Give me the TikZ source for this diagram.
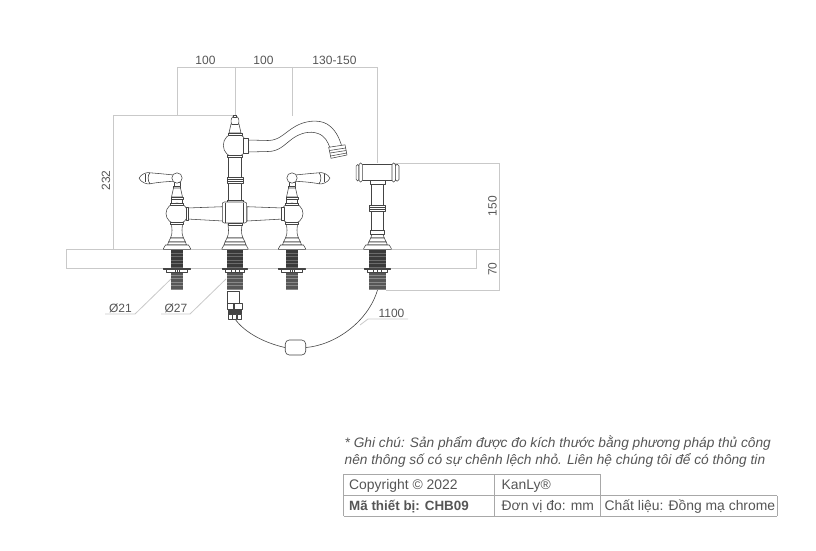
\documentclass[tikz,border=0pt]{standalone}
\usepackage{fontspec}
\setmainfont{Liberation Sans}
\definecolor{dimc}{HTML}{C9C9C9}
\definecolor{prod}{HTML}{444444}
\definecolor{thr}{HTML}{3A3A3A}
\definecolor{txt}{HTML}{555555}
\definecolor{tbl}{HTML}{A8A8A8}
\tikzset{
 dimline/.style={draw=dimc,line width=0.8pt},
 prodline/.style={draw=prod,line width=0.55pt,fill=white,line join=round},
 prodopen/.style={draw=prod,line width=0.55pt,line join=round},
 dimtext/.style={text=txt,font=\fontsize{12}{14}\selectfont,inner sep=0pt},
 notetext/.style={text=txt,font=\fontsize{13.7}{16}\selectfont\itshape,inner sep=0pt,anchor=base west},
 celltext/.style={text=txt,font=\fontsize{13.9}{15}\selectfont,inner sep=0pt,anchor=base west},
 tblline/.style={draw=tbl,line width=0.8pt},
 hoseline/.style={draw=prod,line width=0.6pt},
}
% thread: axis, half width, flange half width
\newcommand{\threadpart}[3]{%
 \begin{scope}[shift={(#1,0)}]
  \fill[thr] (-#2,250) rectangle (#2,268);
  \fill[thr!85!white] (-#2,272) rectangle (#2,290);
  \foreach \yy in {253,256.5,260,263.5,267}{\draw[white!25!thr,line width=0.4pt] (-#2,\yy) -- (#2,\yy);}
  \foreach \yy in {275,278.5,282,285.5,289}{\draw[white!40!thr,line width=0.4pt] (-#2,\yy) -- (#2,\yy);}
  \draw[prodline] (-#3,268) -- (#3,268) -- (#3,269.5) -- (-#3,269.5) -- cycle;
  \draw[prodline] (-#3+3,269.5) rectangle (#3-3,272.5);
  \draw[prodopen] (-#2+4,269.5) -- (-#2+4,272.5) (0,269.5) -- (0,272.5) (#2-4,269.5) -- (#2-4,272.5);
 \end{scope}}
% base: axis, neck half width, plate half width
\newcommand{\basepart}[3]{%
 \begin{scope}[shift={(#1,0)}]
  \draw[prodline] (-#2,224) -- (-#2+0.5,230) .. controls (-#2+0.5,234) and (-#2,236) .. (-#2-1,238) -- (#2+1,238) .. controls (#2,236) and (#2-0.5,234) .. (#2-0.5,230) -- (#2,224) -- cycle;
  \draw[prodline] (-#2-1,238) -- (-#2-3,242) -- (#2+3,242) -- (#2+1,238) -- cycle;
  \draw[prodline] (-#2-3,242) -- (-#2-4,245) -- (#2+4,245) -- (#2+3,242) -- cycle;
  \draw[prodline] (-#3+2,245) -- (#3-2,245) -- (#3,248.5) -- (#3,249.3) -- (-#3,249.3) -- (-#3,248.5) -- cycle;
 \end{scope}}
% lever valve: axis, direction of lever
\newcommand{\levervalve}[2]{%
 \begin{scope}[shift={(#1,0)}]
  % lever
  \begin{scope}[xscale=#2]
   \draw[prodline] (2,175.5) .. controls (-8,174.5) and (-18,173.5) .. (-27,172.8) .. controls (-30,174.5) and (-30,181.5) .. (-27,183.8) .. controls (-18,182) and (-8,181.5) .. (2,181) -- cycle;
   \draw[prodline] (-27,172.8) .. controls (-30,171.8) and (-36,174) .. (-38,178.2) .. controls (-36,182.5) and (-30,184.5) .. (-27,183.8) .. controls (-29.5,181.5) and (-29.5,174.5) .. (-27,172.8) -- cycle;
   \draw[prodopen] (-32,174.3) -- (-32,182.2);
  \end{scope}
  % upper stem
  \draw[prodline] (-3,182) -- (-3,186) -- (3,186) -- (3,182) -- cycle;
  \draw[prodline] (-3.5,186) rectangle (3.5,188);
  \draw[prodline] (-3.5,188) -- (-5.5,197) -- (5.5,197) -- (3.5,188) -- cycle;
  \draw[prodline] (-6,197) rectangle (6,199.5);
  \draw[prodline] (-5.5,199.5) rectangle (5.5,204);
  \draw[prodline] (0,178) circle (5.2);
  \draw[prodline] (0,213.5) ellipse (11 and 10.5);
  \draw[prodline] (-6.5,203) rectangle (6.5,205);
  \draw[prodline] (-6.5,222) rectangle (6.5,224.5);
 \end{scope}}
\begin{document}
\begin{tikzpicture}[x=1pt,y=-1pt]
\useasboundingbox (0,0) rectangle (816,551);
% counter
\draw[dimline] (66,249.5) rectangle (476.5,268);
% dimension lines
\draw[dimline] (177,115.7) -- (177,67) -- (377,67) -- (377,163);
\draw[dimline] (235,67) -- (235,116);
\draw[dimline] (292,67) -- (292,115.5);
\draw[dimline] (235,115.7) -- (113,115.7) -- (113,249.5);
\draw[dimline] (393,163) -- (499.7,163) -- (499.7,290) -- (386,290);
\draw[dimline] (476.5,249.5) -- (499.7,249.5);
\draw[dimline] (105,314) -- (135,314) -- (171,279);
\draw[dimline] (161,314) -- (190,314) -- (226,279);
\draw[dimline] (360,325) -- (368,319) -- (408,319);
\node[dimtext] (d100a) at (205.5,60.5) {100};
\node[dimtext] (d100b) at (263.5,60.5) {100};
\node[dimtext] (d130) at (334.5,60.5) {130-150};
\node[dimtext,rotate=90] (d232) at (106,180.5) {232};
\node[dimtext,rotate=90] (d150) at (492.5,206) {150};
\node[dimtext,rotate=90] (d70) at (492.5,269) {70};
\node[dimtext] (d21) at (120.5,308.5) {Ø21};
\node[dimtext] (d27) at (176,308.5) {Ø27};
\node[dimtext] (d1100) at (391.5,313) {1100};
% threads
\threadpart{177}{6.2}{13.5}
\threadpart{292}{6.2}{13.5}
\threadpart{235}{8}{12.5}
\threadpart{377.5}{8.2}{13}
% bases
\basepart{177}{5.5}{13.5}
\basepart{292}{5.5}{13.5}
\basepart{235}{7}{13}
\basepart{377.5}{5.8}{13.8}
% left and right valves
\levervalve{177}{1}
\levervalve{292}{-1}
% bridge arms
\draw[prodline] (187,208) -- (223,206.7) -- (223,221) -- (187,219) -- cycle;
\draw[prodline] (283,208) -- (247,206.7) -- (247,221) -- (283,219) -- cycle;
\draw[prodline] (186,207) rectangle (188.5,220);
\draw[prodline] (281.5,207) rectangle (284,220);
% spout
\draw[prodline] (248,140) -- (268,140.5) .. controls (280,140.5) and (285,132) .. (296,126) .. controls (305,121) and (318,119) .. (327,124) .. controls (335,129) and (339,137) .. (341.7,146) -- (330,148) .. controls (328,142) and (325,136) .. (318,133.5) .. controls (310,130.5) and (300,133) .. (292,139) .. controls (284,145) and (279,151.5) .. (268,151.5) -- (248,152) -- cycle;
% aerator
\draw[prodline] (328.7,147.3) -- (345,144.8) -- (347,155) -- (331,158.3) -- cycle;
\draw[prodopen] (329.5,150.5) -- (345.6,148) (330,153) -- (346.2,150.5) (330.6,156) -- (346.7,153);
% centre column
\draw[prodline] (228,155) rectangle (241.5,178);
\draw[prodline] (226.8,177.5) rectangle (243,183);
\draw[prodopen] (226.8,179.5) -- (243,179.5) (226.8,181) -- (243,181);
\draw[prodline] (228,183) rectangle (241.5,202);
\draw[prodline] (226.8,200) rectangle (243,203);
% cube
\draw[prodline,rounded corners=2pt] (222.3,202) rectangle (246.7,223);
\draw[prodopen] (225.5,202.5) -- (225.5,222.5) (243.5,202.5) -- (243.5,222.5);
\draw[prodline] (228,223) rectangle (242,225);
% ball and finial
\draw[prodline] (231,124) -- (229,133) -- (241,133) -- (239,124) -- cycle;
\draw[prodline] (232.5,117) .. controls (230.5,119) and (230.8,123) .. (232,124.5) -- (238,124.5) .. controls (239.2,123) and (239.5,119) .. (237.5,117) -- cycle;
\draw[prodline] (233.5,115.5) rectangle (236.5,117);
\draw[prodline] (235,145.3) ellipse (11.7 and 12);
\draw[prodline] (228,133) rectangle (242,135);
\draw[prodline] (227.5,155) rectangle (242.5,157.5);
\draw[prodline] (243,138) rectangle (248,153);
% lower connection of centre
\draw[prodline] (227.7,291.5) rectangle (239.5,303);
\draw[prodline] (227,303) rectangle (233,309);
\draw[prodline] (234,303) rectangle (242,309);
\fill[prod] (228,309) rectangle (241.5,314);
\draw[prodline] (228,314) rectangle (231.8,319);
\draw[prodline] (232.5,314) rectangle (236.2,319);
\draw[prodline] (237,314) rectangle (241,319);
% spray
\draw[prodline] (370,184) rectangle (385,179);
\draw[prodline] (371.7,184) rectangle (383.5,230);
\draw[prodline] (369.3,205.5) rectangle (385.7,211);
\draw[prodopen] (369.3,207.5) -- (385.7,207.5) (369.3,209.2) -- (385.7,209.2);
\draw[prodline] (370.3,230) rectangle (384.7,234);
\draw[prodline] (360,164) rectangle (395,180);
\draw[prodline,rounded corners=1.5pt] (356.2,164.5) rectangle (359,181);
\draw[prodline,rounded corners=1.5pt] (359,163) rectangle (362.3,182);
\draw[prodline,rounded corners=1.5pt] (392,163) rectangle (395.3,182);
\draw[prodline,rounded corners=1.5pt] (395.3,164.5) rectangle (399,181);
% hose
\node[draw=prod,line width=0.6pt,rounded corners=4pt,minimum width=20.5pt,minimum height=15pt,inner sep=0pt,fill=white] (pill) at (295.5,347.5) {};
\coordinate (hoseA) at (235,319);
\coordinate (hoseB) at (377.5,290);
\draw[hoseline] (hoseA) .. controls (245,333) and (265,343) .. (pill.west);
\draw[hoseline] (pill.east) .. controls (335,345) and (368,322) .. (hoseB);
% note
\node[notetext] (note1) at (344.5,447) {* Ghi chú: Sản phẩm được đo kích thước bằng phương pháp thủ công};
\node[notetext] (note2) at (344.5,464.5) {nên thông số có sự chênh lệch nhỏ. Liên hệ chúng tôi để có thông tin};
% table
\draw[tblline] (343.5,474.3) -- (600.7,474.3) (343.5,495.7) -- (777,495.7) (343.5,516) -- (777,516);
\draw[tblline] (343.5,474.3) -- (343.5,516) (494,474.3) -- (494,516) (600.7,474.3) -- (600.7,516) (777,495.7) -- (777,516);
\node[celltext] (c1) at (349,489) {Copyright © 2022};
\node[celltext] (c2) at (501.5,489) {KanLy®};
\node[celltext,font=\fontsize{13.4}{15}\selectfont\bfseries] (c3) at (349,510) {Mã thiết bị: CHB09};
\node[celltext] (c4) at (501.5,510) {Đơn vị đo: mm};
\node[celltext] (c5) at (604.5,510) {Chất liệu: Đồng mạ chrome};
\end{tikzpicture}
\end{document}
